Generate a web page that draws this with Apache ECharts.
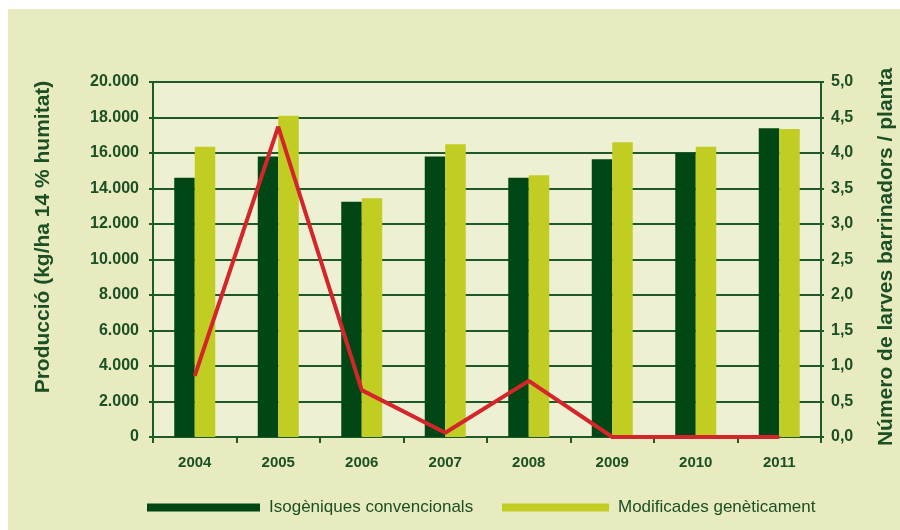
<!DOCTYPE html>
<html>
<head>
<meta charset="utf-8">
<script src="https://cdn.jsdelivr.net/npm/echarts@6/dist/echarts.min.js"></script>
<style>
html,body{margin:0;padding:0;background:#ffffff;}
#c{width:900px;height:530px;}
</style>
</head>
<body>
<div id="c"></div>
<script>
var years = ['2004','2005','2006','2007','2008','2009','2010','2011'];
var isogeniques = [14600, 15800, 13250, 15800, 14600, 15650, 16000, 17400];
var modificades = [16350, 18100, 13450, 16500, 14750, 16600, 16350, 17350];
var larves = [0.86, 4.37, 0.66, 0.06, 0.79, 0, 0, 0];
var seriesNames = ['Isogèniques convencionals', 'Modificades genèticament', 'Larves'];
var leftTitle = 'Producció (kg/ha 14 % humitat)';
var rightTitle = 'Número de larves barrinadors / planta';

var dark = '#004715', light = '#c2cd23', red = '#d4252b', ink = '#1b4f24', frame = '#1d5a28';
var font = 'Liberation Sans, Arial, sans-serif';

var chart = echarts.init(document.getElementById('c'));
chart.setOption({
  animation: false,
  backgroundColor: '#ffffff',
  graphic: [
    {type: 'rect', z: -10, shape: {x: 8, y: 9, width: 892, height: 521}, style: {fill: '#e8eabf'}},
    {type: 'text', x: 43, y: 237, rotation: Math.PI / 2,
     style: {text: leftTitle, fill: ink, font: 'bold 21px ' + font, align: 'center', verticalAlign: 'middle'}},
    {type: 'text', x: 886, y: 257, rotation: Math.PI / 2,
     style: {text: rightTitle, fill: ink, font: 'bold 21px ' + font, align: 'center', verticalAlign: 'middle'}}
  ],
  grid: {left: 153, right: 79, top: 82, bottom: 93, show: true, backgroundColor: '#eef0d3',
         borderColor: frame, borderWidth: 2},
  legend: [
    {data: [seriesNames[0]], left: 147, top: 499, padding: 0, itemWidth: 113, itemHeight: 8, icon: 'rect',
     textStyle: {color: ink, fontSize: 17, fontFamily: font, padding: [0, 0, 0, 4]}},
    {data: [seriesNames[1]], left: 502, top: 499, padding: 0, itemWidth: 107, itemHeight: 8, icon: 'rect',
     textStyle: {color: ink, fontSize: 17, fontFamily: font, padding: [0, 0, 0, 4]}}
  ],
  xAxis: {
    type: 'category', data: years,
    axisLine: {lineStyle: {color: frame, width: 2}},
    axisTick: {show: true, length: 6, lineStyle: {color: frame, width: 2}},
    axisLabel: {color: ink, fontSize: 15, fontWeight: 'bold', fontFamily: font, margin: 18}
  },
  yAxis: [
    {type: 'value', min: 0, max: 20000, interval: 2000,
     axisLine: {show: true, lineStyle: {color: frame, width: 2}},
     axisTick: {show: true, length: 4, lineStyle: {color: frame, width: 2}},
     splitLine: {show: true, lineStyle: {color: frame, width: 2}},
     axisLabel: {color: ink, fontSize: 16, fontWeight: 'bold', fontFamily: font, margin: 14,
       formatter: function (v) { return v === 0 ? '0' : String(v).replace(/\B(?=(\d{3})+(?!\d))/g, '.'); }}},
    {type: 'value', min: 0, max: 5, interval: 0.5, position: 'right',
     axisLine: {show: true, lineStyle: {color: frame, width: 2}},
     axisTick: {show: true, length: 3, lineStyle: {color: frame, width: 2}},
     splitLine: {show: false},
     axisLabel: {color: ink, fontSize: 16, fontWeight: 'bold', fontFamily: font, margin: 10,
       formatter: function (v) { return v.toFixed(1).replace('.', ','); }}}
  ],
  series: [
    {name: seriesNames[0], type: 'bar', data: isogeniques, barWidth: 20.5, barGap: '0%',
     itemStyle: {color: dark}},
    {name: seriesNames[1], type: 'bar', data: modificades, barWidth: 20.5, barGap: '0%',
     itemStyle: {color: light}},
    {name: seriesNames[2], type: 'line', yAxisIndex: 1, data: larves, symbol: 'none',
     lineStyle: {color: red, width: 4}, itemStyle: {color: red}, z: 5}
  ]
});
</script>
</body>
</html>
